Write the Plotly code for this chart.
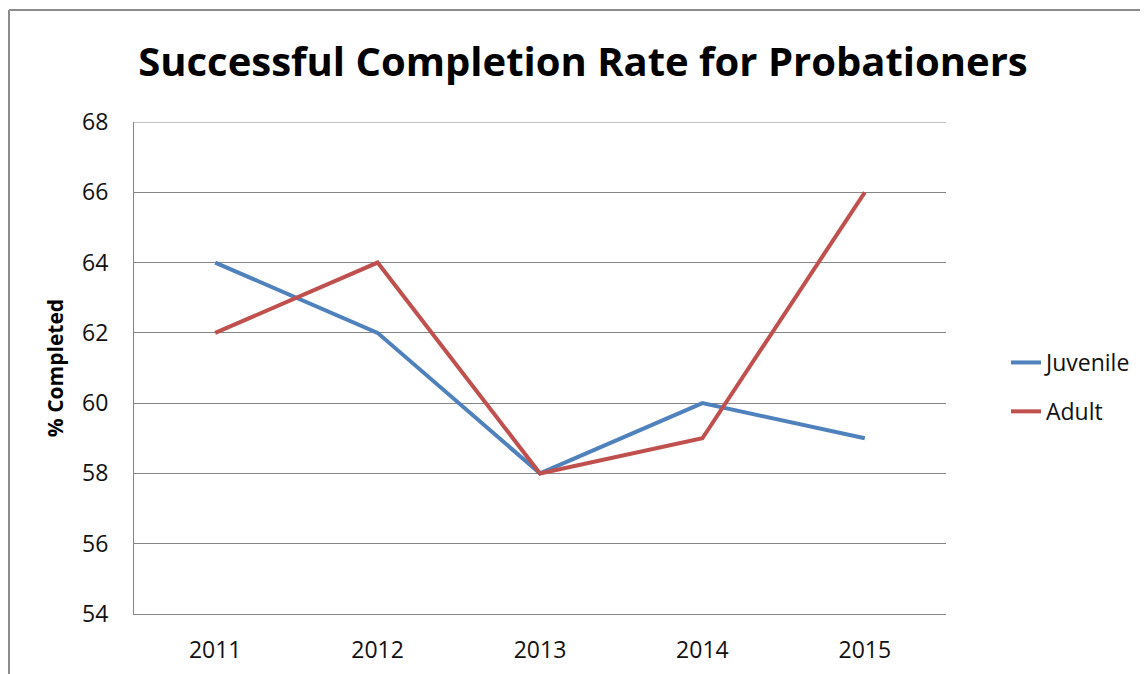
import plotly.graph_objects as go

years = ["2011", "2012", "2013", "2014", "2015"]
juvenile = [64, 62, 58, 60, 59]
adult = [62, 64, 58, 59, 66]

FONT = "Open Sans"
GRID = "#868686"

fig = go.Figure()
fig.add_trace(go.Scatter(x=years, y=juvenile, name="Juvenile", mode="lines",
                         line=dict(color="#4F81BD", width=4), legendgroup="j"))
fig.add_trace(go.Scatter(x=years, y=adult, name="Adult", mode="lines",
                         line=dict(color="#C0504D", width=4), legendgroup="a"))

# page has an 8px body margin, so figure coords = screen coords - 8
# plot area on figure: x 126..938, y 114..606
L, R, T, B = 126, 210, 114, 68
W, H = 1148, 674
pw, ph = W - L - R, H - T - B

def px_x(x):
    return (x - L) / pw

def px_y(y):
    return 1 - (y - T) / ph

# outer frame (left and top edges visible)
fig.add_shape(type="line", xref="paper", yref="paper",
              x0=px_x(1), x1=px_x(W + 5), y0=px_y(2), y1=px_y(2),
              line=dict(color="#8c8c8c", width=2))
fig.add_shape(type="line", xref="paper", yref="paper",
              x0=px_x(1), x1=px_x(1), y0=px_y(2), y1=px_y(H + 5),
              line=dict(color="#8c8c8c", width=2))
# top gridline (plotly drops the one at the range edge)
fig.add_shape(type="line", xref="paper", yref="y", x0=0, x1=1, y0=68, y1=68,
              line=dict(color=GRID, width=1))

fig.update_layout(
    width=W, height=H,
    margin=dict(l=L, r=R, t=T, b=B),
    paper_bgcolor="white", plot_bgcolor="white",
    font=dict(family=FONT, size=23, color="#000000"),
    title=dict(text="<b>Successful Completion Rate for Probationers</b>",
               font=dict(family=FONT, size=40, color="#000000"),
               x=575 / W, xanchor="center", xref="container",
               y=1 - 54 / H, yanchor="middle", yref="container"),
    xaxis=dict(type="category", range=[-0.5, 4.5], showgrid=False,
               showline=True, linecolor=GRID, linewidth=1, ticks="",
               ticklabelstandoff=15, tickfont=dict(size=23, color="#111")),
    yaxis=dict(range=[54, 68], dtick=2, showgrid=True, gridcolor=GRID, gridwidth=1,
               showline=True, linecolor=GRID, linewidth=1, ticks="", zeroline=False,
               ticklabelstandoff=20, tickfont=dict(size=23, color="#111"),
               title=dict(text="<b>% Completed</b>", font=dict(size=21), standoff=12)),
    legend=dict(x=px_x(998), y=px_y(333), xanchor="left", yanchor="top",
                font=dict(size=23, color="#111"), traceorder="grouped",
                tracegroupgap=16, bgcolor="rgba(0,0,0,0)"),
)

fig.write_html("out.html")
